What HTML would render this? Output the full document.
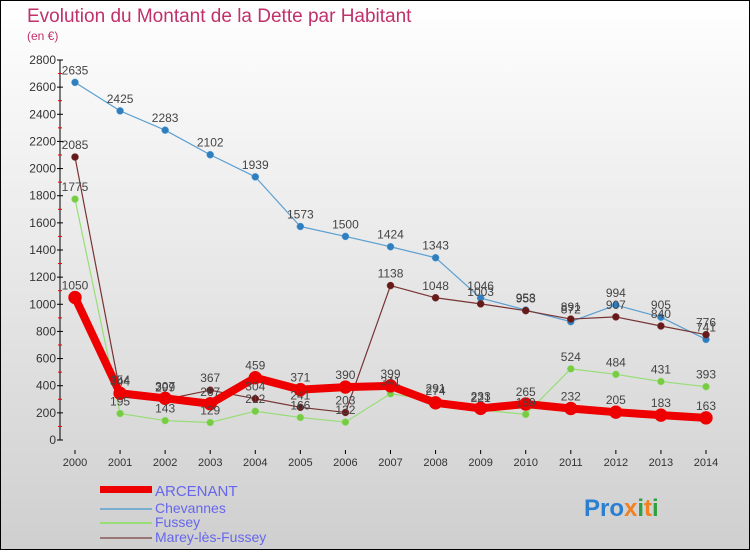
<!DOCTYPE html>
<html><head><meta charset="utf-8"><style>
body{margin:0}
svg text{font-family:"Liberation Sans",sans-serif}
</style></head><body>
<svg id="c" width="750" height="550" xmlns="http://www.w3.org/2000/svg">
<defs><linearGradient id="bg" x1="0" y1="0" x2="0" y2="1"><stop offset="0" stop-color="#ffffff"/><stop offset="1" stop-color="#cfcfcf"/></linearGradient></defs>
<rect x="0" y="0" width="750" height="550" fill="url(#bg)" stroke="#000" stroke-width="2"/>
<text x="27" y="22" font-size="19" fill="#c0306a">Evolution du Montant de la Dette par Habitant</text>
<text x="27" y="40" font-size="12" fill="#c0306a">(en €)</text>
<g id="axes"></g><g id="series"></g><g id="labels"></g>
<g>
<rect x="100" y="486" width="52" height="7" fill="#e00"/>
<text x="155" y="496" font-size="15" fill="#6666ee">ARCENANT</text>
<line x1="100" y1="509" x2="152" y2="509" stroke="#7aaed0" stroke-width="2"/>
<text x="155" y="513" font-size="14" fill="#6666ee">Chevannes</text>
<line x1="100" y1="523" x2="152" y2="523" stroke="#99dd77" stroke-width="2"/>
<text x="155" y="527" font-size="14" fill="#6666ee">Fussey</text>
<line x1="100" y1="538" x2="152" y2="538" stroke="#997777" stroke-width="2"/>
<text x="155" y="542" font-size="14" fill="#6666ee">Marey-lès-Fussey</text>
</g>
<text x="584" y="516" font-size="24" font-weight="bold"><tspan fill="#2a7fd0">Pro</tspan><tspan fill="#f08020">x</tspan><tspan fill="#30a040">i</tspan><tspan fill="#f08020">t</tspan><tspan fill="#30a040">i</tspan></text>
</svg>
<script>
const years=[2000,2001,2002,2003,2004,2005,2006,2007,2008,2009,2010,2011,2012,2013,2014];
const arcenant=[1050,344,307,267,459,371,390,399,274,233,265,232,205,183,163];
const chevannes=[2635,2425,2283,2102,1939,1573,1500,1424,1343,1046,958,872,994,905,741];
const fussey=[1775,195,143,129,212,166,132,341,291,221,189,524,484,431,393];
const marey=[2085,354,299,367,304,241,203,1138,1048,1003,953,891,907,840,776];
const yTicks=[0,200,400,600,800,1000,1200,1400,1600,1800,2000,2200,2400,2600,2800];
const NS="http://www.w3.org/2000/svg";
const X=i=>75+i*(706-75)/(years.length-1);
const Y=v=>440-v*(380/2800);
function mk(t,a,p){const e=document.createElementNS(NS,t);for(const k in a)e.setAttribute(k,a[k]);document.getElementById(p).appendChild(e);return e;}
let ax=mk('line',{x1:60,y1:60,x2:60,y2:440,stroke:'#000','stroke-width':1},'axes');


yTicks.forEach(v=>{
 mk('line',{x1:57,y1:Y(v),x2:63,y2:Y(v),stroke:'#000'},'axes');
 if(v<2800)mk('line',{x1:58,y1:Y(v+100),x2:62,y2:Y(v+100),stroke:'#e00'},'axes');
 const t=mk('text',{x:56,y:Y(v)+4,'font-size':12,'text-anchor':'end',fill:'#333'},'axes');t.textContent=v;
 
 
});
years.forEach((y,i)=>{
 mk('line',{x1:X(i),y1:450,x2:X(i),y2:454,stroke:'#000'},'axes');
 const t=mk('text',{x:X(i),y:466,'font-size':11,'text-anchor':'middle',fill:'#333'},'axes');t.textContent=y;
 
 
});
function draw(data,color,dot,w,r,name){
 const p=mk('polyline',{points:data.map((v,i)=>X(i)+','+Y(v)).join(' '),fill:'none',stroke:color,'stroke-width':w,'stroke-linejoin':'round'},'series');
 
 
 data.forEach((v,i)=>{
  const c=mk('circle',{cx:X(i),cy:Y(v),r:r,fill:dot,stroke:color,'stroke-width':0.5},'series');
  
  
  const t=mk('text',{x:X(i),y:Y(v)-8,'font-size':12,'text-anchor':'middle',fill:'#444'},'labels');t.textContent=v;
  
  
 });
}
draw(chevannes,'#5b9fd0','#2f7fc0',1.2,3.5,'chevannes');
draw(fussey,'#99dd77','#77cc44',1.2,3.5,'fussey');
draw(marey,'#773333','#661a1a',1.2,3.5,'marey');
draw(arcenant,'#ee0000','#ee0000',8,6.5,'arcenant');
</script>
</body></html>
